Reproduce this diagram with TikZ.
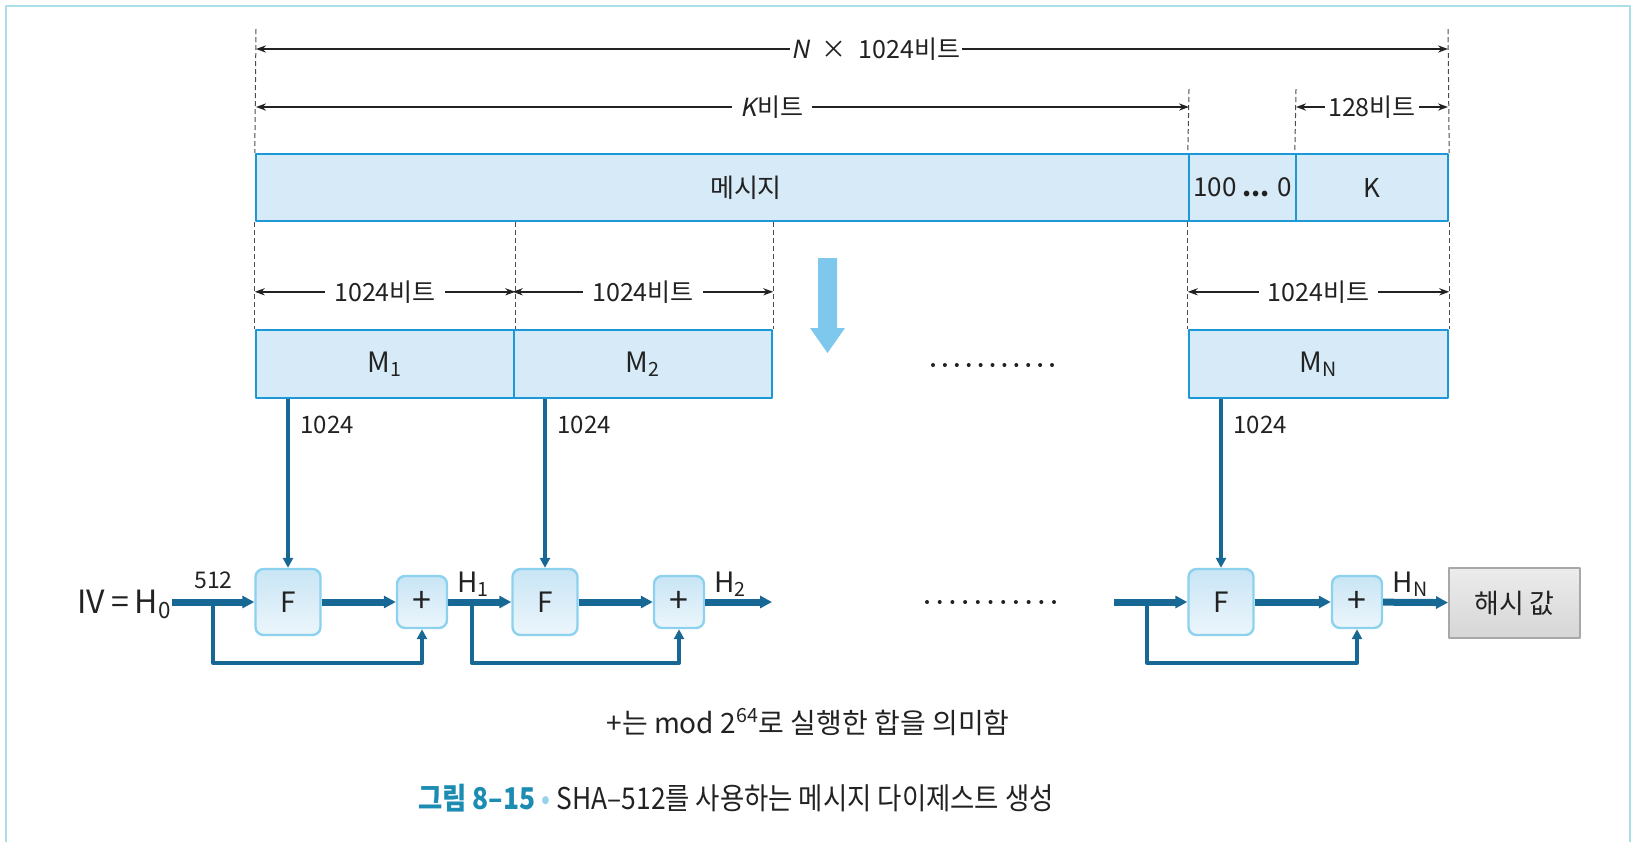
\documentclass[tikz,border=0pt]{standalone}
\usepackage{fontspec}
\setmainfont{Noto Sans CJK KR}
\newfontfamily\slfont{Noto Sans CJK KR}[FakeSlant=0.2]
\newfontfamily\cndfont{Noto Sans CJK KR}[FakeStretch=0.88]
\usetikzlibrary{arrows.meta,positioning}
\newcommand\fsz[1]{\fontsize{#1}{#1}\selectfont}
\definecolor{boxfill}{RGB}{214,235,247}
\definecolor{boxline}{RGB}{28,152,214}
\definecolor{flow}{RGB}{24,104,150}
\definecolor{fnfill}{RGB}{200,229,245}
\definecolor{fnline}{RGB}{140,210,238}
\definecolor{downblue}{RGB}{126,200,238}
\definecolor{hashtop}{RGB}{236,236,236}
\definecolor{hashbot}{RGB}{214,214,214}
\definecolor{hashline}{RGB}{168,168,168}
\definecolor{captext}{RGB}{28,140,178}
\definecolor{capdot}{RGB}{150,210,232}
\definecolor{frameline}{RGB}{172,222,232}
\definecolor{ink}{RGB}{34,34,34}
\begin{document}
\begin{tikzpicture}[x=0.5pt,y=-0.5pt,line join=round,font=\fsz{13},text=ink,
  blk/.style={draw=boxline,line width=1.2pt,fill=boxfill,inner sep=0pt,minimum height=33.5pt},
  fnbox/.style={draw=fnline,line width=1.2pt,top color=fnfill,bottom color=fnfill!35!white,rounded corners=4pt,inner sep=0pt},
  dim/.style={ink,line width=0.7pt,{Stealth[length=5pt,width=3.6pt]}-{Stealth[length=5pt,width=3.6pt]}},
  dimlbl/.style={fill=white,inner sep=4.5pt,font=\fsz{12.5},text=ink},
  guide/.style={gray!60!black,line width=0.5pt,dash pattern=on 2.5pt off 1.5pt},
  bus/.style={flow,line width=3.5pt,-{Triangle[length=6pt,width=6pt]}},
  feed/.style={flow,line width=2pt,-{Triangle[length=5pt,width=5pt]}},
  small/.style={font=\fsz{12},inner sep=0pt,anchor=west}]
\useasboundingbox (0,0) rectangle (1636,842);
% frame
\draw[frameline,line width=1pt] (6,842) -- (6,6) -- (1630,6) -- (1630,842);

% message with padding and length
\node[blk,minimum width=466.5pt] (msg) at (722.5,187.5) {};
\node (msgtxt) at (746,187.5) {메시지};
\node[blk,minimum width=53.5pt] (pad) at (1242.5,187.5) {100 \textbf{...} 0};
\node[blk,minimum width=76pt] (len) at (1372,187.5) {K};

% blocks
\node[blk,minimum width=129pt,minimum height=34pt,font=\fsz{14}] (m1) at (385,364) {M\textsubscript{1}};
\node[blk,minimum width=129pt,minimum height=34pt,font=\fsz{14}] (m2) at (643,364) {M\textsubscript{2}};
\node[blk,minimum width=129.5pt,minimum height=34pt,font=\fsz{14}] (mn) at (1318.5,364) {M\textsubscript{N}};

% guides
\coordinate (topL) at (256,29);
\coordinate (topR) at (1448,29);
\coordinate (kTop) at (1189,89);
\coordinate (lTop) at (1296,89);
\draw[guide] (topL) -- (msg.north west);
\draw[guide] (msg.south west) -- (m1.north west);
\draw[guide] (topR) -- (len.north east);
\draw[guide] (len.south east) -- (mn.north east);
\draw[guide] (kTop) -- (pad.north west);
\draw[guide] (pad.south west) -- (mn.north west);
\draw[guide] (lTop) -- (len.north west);
\draw[guide] (m1.north east |- msg.south) -- (m1.north east);
\draw[guide] (m2.north east |- msg.south) -- (m2.north east);

% lengths
\coordinate (nL) at (256,49);
\coordinate (nR) at (1448,49);
\coordinate (kL) at (256,107);
\coordinate (kR) at (1189,107);
\coordinate (lL) at (1296,107);
\coordinate (lR) at (1448,107);
\draw[dim] (nL) -- node[dimlbl,pos=0.52,inner sep=1pt] {{\slfont N}\hspace{6pt}×\hspace{6pt}1024비트} (nR);
\draw[dim] (kL) -- node[dimlbl,pos=0.553] {{\slfont K}비트} (kR);
\draw[dim] (lL) -- node[dimlbl,inner sep=1.5pt] {128비트} (lR);
\draw[dim] ([yshift=18.5pt]m1.north west) -- node[dimlbl] {1024비트} ([yshift=18.5pt]m1.north east);
\draw[dim] ([yshift=18.5pt]m2.north west) -- node[dimlbl] {1024비트} ([yshift=18.5pt]m2.north east);
\draw[dim] ([yshift=18.5pt]mn.north west) -- node[dimlbl] {1024비트} ([yshift=18.5pt]mn.north east);

% down arrow
\fill[downblue] (818,258) -- (837,258) -- (837,328) -- (845,328) -- (827.5,353) -- (810,328) -- (818,328) -- cycle;
\foreach \i in {0,...,10} \fill[ink] (933+\i*11.9,365) circle (1pt);

% compression chain
\node[fnbox,minimum width=32.5pt,minimum height=33pt,font=\fsz{14}] (f1) at (288,602) {F};
\node[fnbox,minimum width=25pt,minimum height=26pt,font=\fsz{17}] (p1) at (422,602) {+};
\node[fnbox,minimum width=32.5pt,minimum height=33pt,font=\fsz{14}] (f2) at (545,602) {F};
\node[fnbox,minimum width=25pt,minimum height=26pt,font=\fsz{17}] (p2) at (679,602) {+};
\node[fnbox,minimum width=32.5pt,minimum height=33pt,font=\fsz{14}] (f3) at (1221,602) {F};
\node[fnbox,minimum width=25pt,minimum height=26pt,font=\fsz{17}] (p3) at (1357,602) {+};
\node[draw=hashline,line width=1pt,top color=hashtop,bottom color=hashbot,minimum width=65.5pt,minimum height=35pt,font=\fsz{13.5}] (hash) at (1514.5,603) {해시 값};

\node[anchor=base east,font=\fsz{16},inner sep=0pt] (iv) at (172,613) {IV\hspace{3pt}=\hspace{3pt}H\textsubscript{0}};
\node[small,font=\fsz{11.5}] (w0) at (194,580) {512};
\node[small] (w1) at (300,425) {1024};
\node[small] (w2) at (557,425) {1024};
\node[small] (w3) at (1233,425) {1024};

\draw[feed] (f1 |- m1.south) -- (f1.north);
\draw[feed] (f2 |- m2.south) -- (f2.north);
\draw[feed] (f3 |- mn.south) -- (f3.north);

\coordinate (b1) at (213,602);
\coordinate (b2) at (472,602);
\coordinate (b3) at (1147,602);
\coordinate (in3) at (1114,602);
\coordinate (h2end) at (772,602);
\draw[feed] (b1) -- ++(0,61) -| (p1.south);
\draw[feed] (b2) -- ++(0,61) -| (p2.south);
\draw[feed] (b3) -- ++(0,61) -| (p3.south);
\draw[bus] (iv.east |- f1) -- (f1);
\draw[bus] (f1) -- (p1);
\draw[bus] (p1) -- (f2);
\draw[bus] (f2) -- (p2);
\draw[bus] (p2) -- (h2end);
\draw[bus] (in3) -- (f3);
\draw[bus] (f3) -- (p3);
\draw[bus] (p3) -- (hash);
\node[anchor=base west,font=\fsz{14},inner sep=0pt] (h1) at ([xshift=4.5pt,yshift=5pt]p1.east) {H\textsubscript{1}};
\node[anchor=base west,font=\fsz{14},inner sep=0pt] (h2) at ([xshift=4.5pt,yshift=5pt]p2.east) {H\textsubscript{2}};
\node[anchor=base west,font=\fsz{14},inner sep=0pt] (hn) at ([xshift=4.5pt,yshift=5pt]p3.east) {H\textsubscript{N}};
\foreach \i in {0,...,10} \fill[ink] (927+\i*12.7,602) circle (1pt);

% notes
\node[font=\fsz{14}] (note) at (808,722) {+는 mod 2\textsuperscript{64}로 실행한 합을 의미함};
\node[font=\cndfont\fsz{15}] (cap) at (736,798) {{\color{captext}\bfseries 그림 8–15}\hspace{3pt}{\color{capdot}•}\hspace{3pt}SHA–512를 사용하는 메시지 다이제스트 생성};
\end{tikzpicture}
\end{document}
